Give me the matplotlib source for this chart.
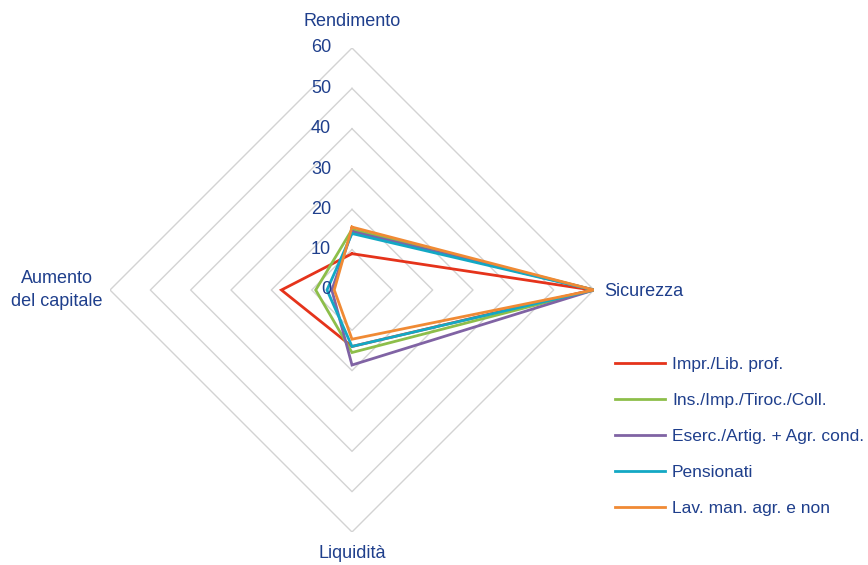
import numpy as np
import matplotlib.pyplot as plt

plt.rcParams['font.family'] = ['Liberation Sans', 'DejaVu Sans']

# assi del radar, in senso orario partendo dall'alto
assi = ['Rendimento', 'Sicurezza', 'Liquidità', 'Aumento\ndel capitale']
categorie = ['Impr./Lib. prof.', 'Ins./Imp./Tiroc./Coll.',
             'Eserc./Artig. + Agr. cond.', 'Pensionati', 'Lav. man. agr. e non']
impr = [9, 59.5, 14, 17.5]
ins = [15, 60, 15.5, 9]
eserc = [14.5, 60, 18.6, 5]
pens = [14, 60, 14, 6.2]
lav = [15.6, 60, 12.2, 4.4]
serie = [impr, ins, eserc, pens, lav]
colori = ['#E5331B', '#8DBE4A', '#8063A4', '#13A8C4', '#F08A34']
griglia = [10, 20, 30, 40, 50, 60]
tick_lab = ['0', '10', '20', '30', '40', '50', '60']

blu = '#1F3F8C'
ang = np.pi / 2 - np.arange(4) * np.pi / 2

fig = plt.figure(figsize=(8.68, 5.65), dpi=100)
W, H = 868, 565
cx, cy, r = 352, 290, 242
ax = fig.add_axes([(cx - r) / W, (H - cy - r) / H, 2 * r / W, 2 * r / H])
ax.set_xlim(-60, 60)
ax.set_ylim(-60, 60)
ax.axis('off')

def chiuso(v):
    v = np.asarray(v, dtype=float)
    x = v * np.cos(ang)
    y = v * np.sin(ang)
    return np.append(x, x[0]), np.append(y, y[0])

for g in griglia:
    x, y = chiuso([g] * 4)
    ax.plot(x, y, color='#D3D3D3', lw=1.0, zorder=1)

for s, c, lab in zip(serie, colori, categorie):
    x, y = chiuso(s)
    ax.plot(x, y, color=c, lw=2.0, label=lab, zorder=3, solid_joinstyle='miter')

# etichette della scala sopra le linee
for i, t in enumerate(tick_lab):
    ax.text(-5.2, i * 10, t, ha='right', va='center', fontsize=13, color=blu, zorder=4)

fs = 13
fig.text(352 / W, 1 - 22 / H, assi[0], ha='center', va='center', fontsize=fs, color=blu)
fig.text(604 / W, 1 - 291 / H, assi[1], ha='left', va='center', fontsize=fs, color=blu)
fig.text(352 / W, 1 - 554 / H, assi[2], ha='center', va='center', fontsize=fs, color=blu)
fig.text(57 / W, 1 - 290 / H, assi[3], ha='center', va='center', fontsize=fs, color=blu,
         multialignment='center', linespacing=1.4)

leg = fig.legend(loc='upper left', bbox_to_anchor=(599 / W, 1 - 341 / H), frameon=False,
                 fontsize=12.5, handlelength=2.9, handletextpad=0.4, labelspacing=1.21)
for t in leg.get_texts():
    t.set_color(blu)

fig.savefig('out.png', dpi=100)
